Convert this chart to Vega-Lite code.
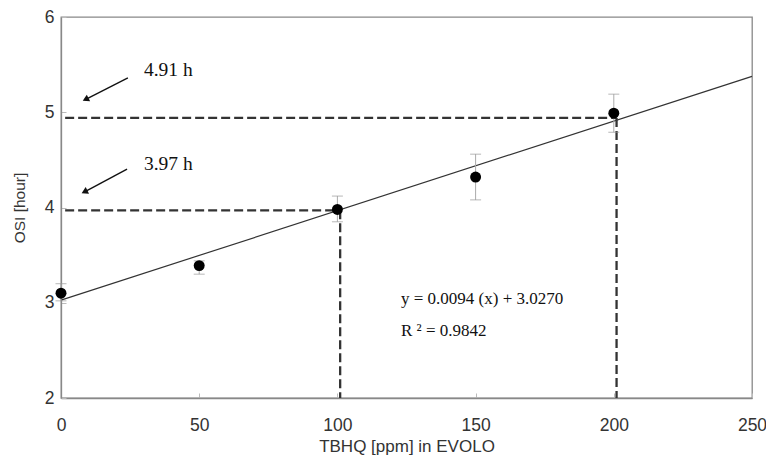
{
  "$schema": "https://vega.github.io/schema/vega-lite/v6.json",
  "width": 691,
  "height": 381,
  "autosize": {"type": "none"},
  "padding": {"left": 61, "top": 17, "right": 14, "bottom": 59},
  "background": "white",
  "config": {
    "view": {"stroke": "#888", "strokeWidth": 1.3},
    "axis": {
      "grid": false,
      "domainColor": "#888",
      "domainWidth": 1.3,
      "tickColor": "#bbb",
      "tickSize": -5,
      "labelFlush": false,
      "labelFont": "Liberation Sans",
      "labelFontSize": 17.5,
      "labelColor": "#333",
      "titleFont": "Liberation Sans",
      "titleFontWeight": "normal",
      "titleColor": "#333"
    }
  },
  "datasets": {
    "fit": [{"x": 0, "y": 3.027}, {"x": 250, "y": 5.377}],
    "dashes": [
      {"x": 1.5, "y": 3.97, "x2": 101, "y2": 3.97},
      {"x": 101, "y": 3.97, "x2": 101, "y2": 2},
      {"x": 1.5, "y": 4.94, "x2": 201, "y2": 4.94},
      {"x": 201, "y": 4.94, "x2": 201, "y2": 2}
    ],
    "obs": [
      {"x": 0, "y": 3.1, "lo": 3.02, "hi": 3.2},
      {"x": 50, "y": 3.39, "lo": 3.3, "hi": 3.44},
      {"x": 100, "y": 3.98, "lo": 3.85, "hi": 4.12},
      {"x": 150, "y": 4.32, "lo": 4.08, "hi": 4.56},
      {"x": 200, "y": 4.99, "lo": 4.79, "hi": 5.19}
    ],
    "shafts": [
      {"x": 24.2, "y": 5.36, "x2": 8.6, "y2": 5.13},
      {"x": 23.9, "y": 4.404, "x2": 8.2, "y2": 4.16}
    ],
    "heads": [{"x": 8.9, "y": 5.135}, {"x": 8.5, "y": 4.165}],
    "labels": [
      {"x": 30, "y": 5.44, "label": "4.91 h"},
      {"x": 30, "y": 4.457, "label": "3.97 h"}
    ],
    "eq": [
      {"x": 123, "y": 3.036, "label": "y = 0.0094 (x) + 3.0270"},
      {"x": 123, "y": 2.7, "label": "R ² = 0.9842"}
    ]
  },
  "layer": [
    {
      "data": {"name": "dashes"},
      "mark": {"type": "rule", "color": "#333", "strokeWidth": 2.3, "strokeDash": [9, 4]},
      "encoding": {
        "x": {"field": "x", "type": "quantitative", "scale": {"domain": [0, 250], "nice": false},
          "axis": {"values": [0, 50, 100, 150, 200, 250], "format": "d", "title": "TBHQ [ppm] in EVOLO", "titleFontSize": 17, "labelPadding": 23, "titlePadding": 5}},
        "y": {"field": "y", "type": "quantitative", "scale": {"domain": [2, 6], "nice": false},
          "axis": {"values": [2, 3, 4, 5, 6], "format": "d", "title": "OSI [hour]", "titleFontSize": 15.5, "labelPadding": 12, "titlePadding": 17}},
        "x2": {"field": "x2"},
        "y2": {"field": "y2"}
      }
    },
    {
      "data": {"name": "fit"},
      "mark": {"type": "line", "color": "#333", "strokeWidth": 1.2},
      "encoding": {
        "x": {"field": "x", "type": "quantitative"},
        "y": {"field": "y", "type": "quantitative"}
      }
    },
    {
      "data": {"name": "obs"},
      "mark": {"type": "rule", "color": "#aaa", "strokeWidth": 1},
      "encoding": {
        "x": {"field": "x", "type": "quantitative"},
        "y": {"field": "lo", "type": "quantitative"},
        "y2": {"field": "hi"}
      }
    },
    {
      "data": {"name": "obs"},
      "mark": {"type": "tick", "orient": "horizontal", "color": "#999", "size": 11, "thickness": 1},
      "encoding": {
        "x": {"field": "x", "type": "quantitative"},
        "y": {"field": "lo", "type": "quantitative"}
      }
    },
    {
      "data": {"name": "obs"},
      "mark": {"type": "tick", "orient": "horizontal", "color": "#999", "size": 11, "thickness": 1},
      "encoding": {
        "x": {"field": "x", "type": "quantitative"},
        "y": {"field": "hi", "type": "quantitative"}
      }
    },
    {
      "data": {"name": "obs"},
      "mark": {"type": "point", "shape": "circle", "filled": true, "color": "#000", "opacity": 1, "size": 120},
      "encoding": {
        "x": {"field": "x", "type": "quantitative"},
        "y": {"field": "y", "type": "quantitative"}
      }
    },
    {
      "data": {"name": "shafts"},
      "mark": {"type": "rule", "color": "#111", "strokeWidth": 1.4},
      "encoding": {
        "x": {"field": "x", "type": "quantitative"},
        "y": {"field": "y", "type": "quantitative"},
        "x2": {"field": "x2"},
        "y2": {"field": "y2"}
      }
    },
    {
      "data": {"name": "heads"},
      "mark": {"type": "point", "shape": "triangle-up", "angle": 243, "filled": true, "color": "#111", "opacity": 1, "size": 55},
      "encoding": {
        "x": {"field": "x", "type": "quantitative"},
        "y": {"field": "y", "type": "quantitative"}
      }
    },
    {
      "data": {"name": "labels"},
      "mark": {"type": "text", "font": "Liberation Serif", "fontSize": 19.5, "align": "left", "baseline": "middle", "color": "#111"},
      "encoding": {
        "x": {"field": "x", "type": "quantitative"},
        "y": {"field": "y", "type": "quantitative"},
        "text": {"field": "label"}
      }
    },
    {
      "data": {"name": "eq"},
      "mark": {"type": "text", "font": "Liberation Serif", "fontSize": 17, "align": "left", "baseline": "middle", "color": "#111"},
      "encoding": {
        "x": {"field": "x", "type": "quantitative"},
        "y": {"field": "y", "type": "quantitative"},
        "text": {"field": "label"}
      }
    }
  ]
}
